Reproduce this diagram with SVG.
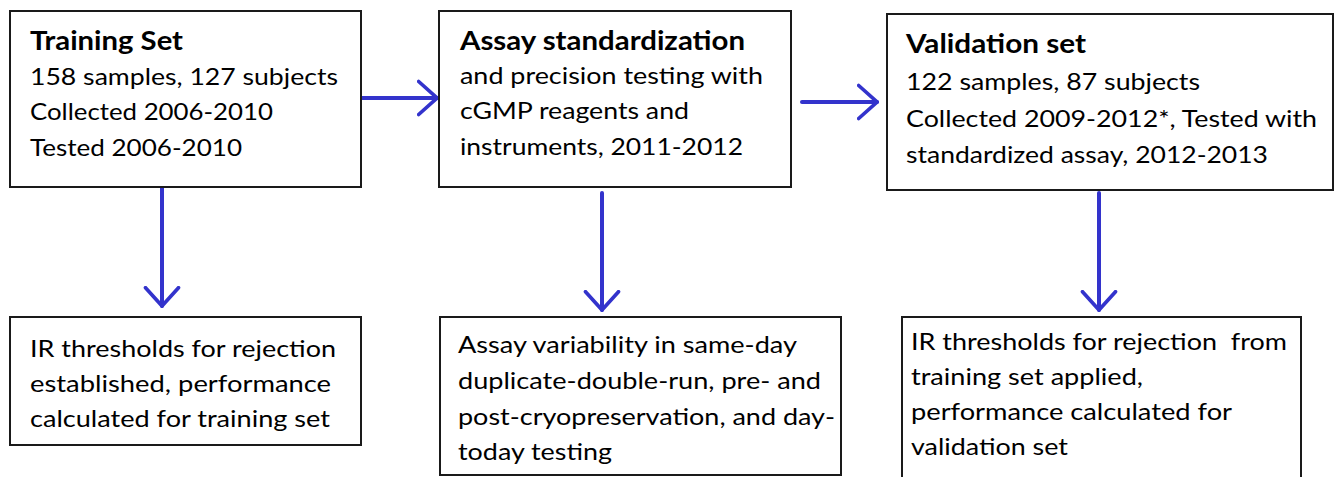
<svg xmlns="http://www.w3.org/2000/svg" width="1340" height="477" viewBox="0 0 1340 477">
<style>
.box{fill:#fff;stroke:#1a1a1a;stroke-width:2}
.t{font-family:Lato,"Liberation Sans",sans-serif;font-size:24px;fill:#000}
.b{font-weight:bold;font-size:27px}
.c{stroke:#3333cc;stroke-width:4;fill:none;stroke-linecap:round;stroke-linejoin:round}
</style>
<defs>
<marker id="ah" viewBox="0 0 12 20" refX="11" refY="10" markerWidth="5.5" markerHeight="9.5" markerUnits="strokeWidth" orient="auto">
<path d="M1,1 L11,10 L1,19" fill="none" stroke="#3333cc" stroke-width="2" stroke-linecap="round"/>
</marker>
</defs>
<rect width="1340" height="477" fill="#fff"/>
<g id="connectors">
<line class="c" x1="362" y1="98" x2="437" y2="98" marker-end="url(#ah)"/>
<line class="c" x1="802" y1="102" x2="877" y2="102" marker-end="url(#ah)"/>
<line class="c" x1="162" y1="188" x2="162" y2="306" marker-end="url(#ah)"/>
<line class="c" x1="602" y1="193" x2="602" y2="310" marker-end="url(#ah)"/>
<line class="c" x1="1099" y1="193" x2="1099" y2="310" marker-end="url(#ah)"/>
</g>
<g id="training-set">
<rect class="box" x="10" y="11" width="351" height="176"/>
<text class="t b" x="30" y="50" textLength="153" lengthAdjust="spacingAndGlyphs">Training Set</text>
<text class="t" x="30" y="85" textLength="308" lengthAdjust="spacingAndGlyphs">158 samples, 127 subjects</text>
<text class="t" x="30" y="120" textLength="243" lengthAdjust="spacingAndGlyphs">Collected 2006-2010</text>
<text class="t" x="30" y="156" textLength="212" lengthAdjust="spacingAndGlyphs">Tested 2006-2010</text>
</g>
<g id="assay-standardization">
<rect class="box" x="439" y="11" width="352" height="176"/>
<text class="t b" x="460" y="50" textLength="285" lengthAdjust="spacingAndGlyphs">Assay standardization</text>
<text class="t" x="460" y="84" textLength="303" lengthAdjust="spacingAndGlyphs">and precision testing with</text>
<text class="t" x="460" y="119" textLength="229" lengthAdjust="spacingAndGlyphs">cGMP reagents and</text>
<text class="t" x="460" y="155" textLength="283" lengthAdjust="spacingAndGlyphs">instruments, 2011-2012</text>
</g>
<g id="validation-set">
<rect class="box" x="887" y="14" width="446" height="176"/>
<text class="t b" x="906" y="53" textLength="180" lengthAdjust="spacingAndGlyphs">Validation set</text>
<text class="t" x="906" y="90" textLength="294" lengthAdjust="spacingAndGlyphs">122 samples, 87 subjects</text>
<text class="t" x="906" y="127" textLength="411" lengthAdjust="spacingAndGlyphs">Collected 2009-2012*, Tested with</text>
<text class="t" x="906" y="163" textLength="362" lengthAdjust="spacingAndGlyphs">standardized assay, 2012-2013</text>
</g>
<g id="ir-thresholds-training">
<rect class="box" x="10" y="317" width="351" height="128"/>
<text class="t" x="30" y="357" textLength="306" lengthAdjust="spacingAndGlyphs">IR thresholds for rejection</text>
<text class="t" x="30" y="392" textLength="301" lengthAdjust="spacingAndGlyphs">established, performance</text>
<text class="t" x="30" y="427" textLength="300" lengthAdjust="spacingAndGlyphs">calculated for training set</text>
</g>
<g id="assay-variability">
<rect class="box" x="440" y="317" width="401" height="158"/>
<text class="t" x="458" y="353" textLength="339" lengthAdjust="spacingAndGlyphs">Assay variability in same-day</text>
<text class="t" x="458" y="389" textLength="363" lengthAdjust="spacingAndGlyphs">duplicate-double-run, pre- and</text>
<text class="t" x="458" y="425" textLength="377" lengthAdjust="spacingAndGlyphs">post-cryopreservation, and day-</text>
<text class="t" x="458" y="460" textLength="154" lengthAdjust="spacingAndGlyphs">today testing</text>
</g>
<g id="ir-thresholds-validation">
<rect class="box" x="902" y="317" width="399" height="170"/>
<text class="t" x="911" y="350" textLength="376" lengthAdjust="spacingAndGlyphs" xml:space="preserve">IR thresholds for rejection  from</text>
<text class="t" x="911" y="385" textLength="232" lengthAdjust="spacingAndGlyphs">training set applied,</text>
<text class="t" x="911" y="420" textLength="321" lengthAdjust="spacingAndGlyphs">performance calculated for</text>
<text class="t" x="911" y="455" textLength="157" lengthAdjust="spacingAndGlyphs">validation set</text>
</g>
</svg>
